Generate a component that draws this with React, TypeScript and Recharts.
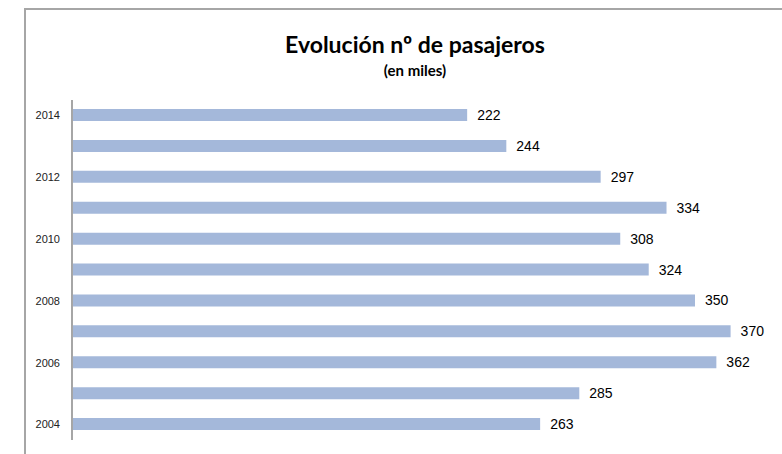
import { BarChart, Bar, XAxis, YAxis, LabelList } from 'recharts';

// años (de arriba a abajo) y pasajeros en miles
const years = ['2014', '2013', '2012', '2011', '2010', '2009', '2008', '2007', '2006', '2005', '2004'];
const passengers = [222, 244, 297, 334, 308, 324, 350, 370, 362, 285, 263];

const data = years.map((year, i) => ({ year, value: passengers[i] }));

const BAR_COLOR = '#a4b8da';
const FRAME = '#a6a6a6';

export default function App() {
  return (
    <div
      style={{
        position: 'fixed',
        left: 0,
        top: 0,
        width: 782,
        height: 454,
        overflow: 'hidden',
        background: '#fff',
      }}
    >
      {/* marco del gráfico */}
      <div
        style={{
          position: 'absolute',
          left: 24,
          top: 8,
          right: -4,
          bottom: -4,
          borderLeft: `2px solid ${FRAME}`,
          borderTop: `2px solid ${FRAME}`,
        }}
      />
      <div
        style={{
          position: 'absolute',
          left: 215,
          width: 400,
          top: 28,
          textAlign: 'center',
          fontFamily: 'Lato, sans-serif',
          fontWeight: 700,
          color: '#000',
        }}
      >
        <div style={{ fontSize: 23, lineHeight: '32px' }}>Evolución nº de pasajeros</div>
        <div style={{ fontSize: 15, lineHeight: '20px' }}>(en miles)</div>
      </div>
      <div style={{ position: 'absolute', left: 0, top: 0 }}>
        <BarChart
          width={786}
          height={454}
          data={data}
          layout="vertical"
          margin={{ top: 100, right: 2, left: 0, bottom: 14 }}
          barSize={12}
        >
          <XAxis type="number" domain={[0, 400]} hide />
          <YAxis
            type="category"
            dataKey="year"
            width={72}
            interval={1}
            tickLine={false}
            axisLine={{ stroke: FRAME, strokeWidth: 2 }}
            tick={{ fontSize: 11, fill: '#222', fontFamily: 'Liberation Sans, Arial, sans-serif' }}
            tickMargin={6}
          />
          <Bar dataKey="value" fill={BAR_COLOR} isAnimationActive={false}>
            <LabelList
              dataKey="value"
              position="right"
              offset={10}
              fill="#000"
              fontSize={14}
              fontFamily="Liberation Sans, Arial, sans-serif"
            />
          </Bar>
        </BarChart>
      </div>
    </div>
  );
}
